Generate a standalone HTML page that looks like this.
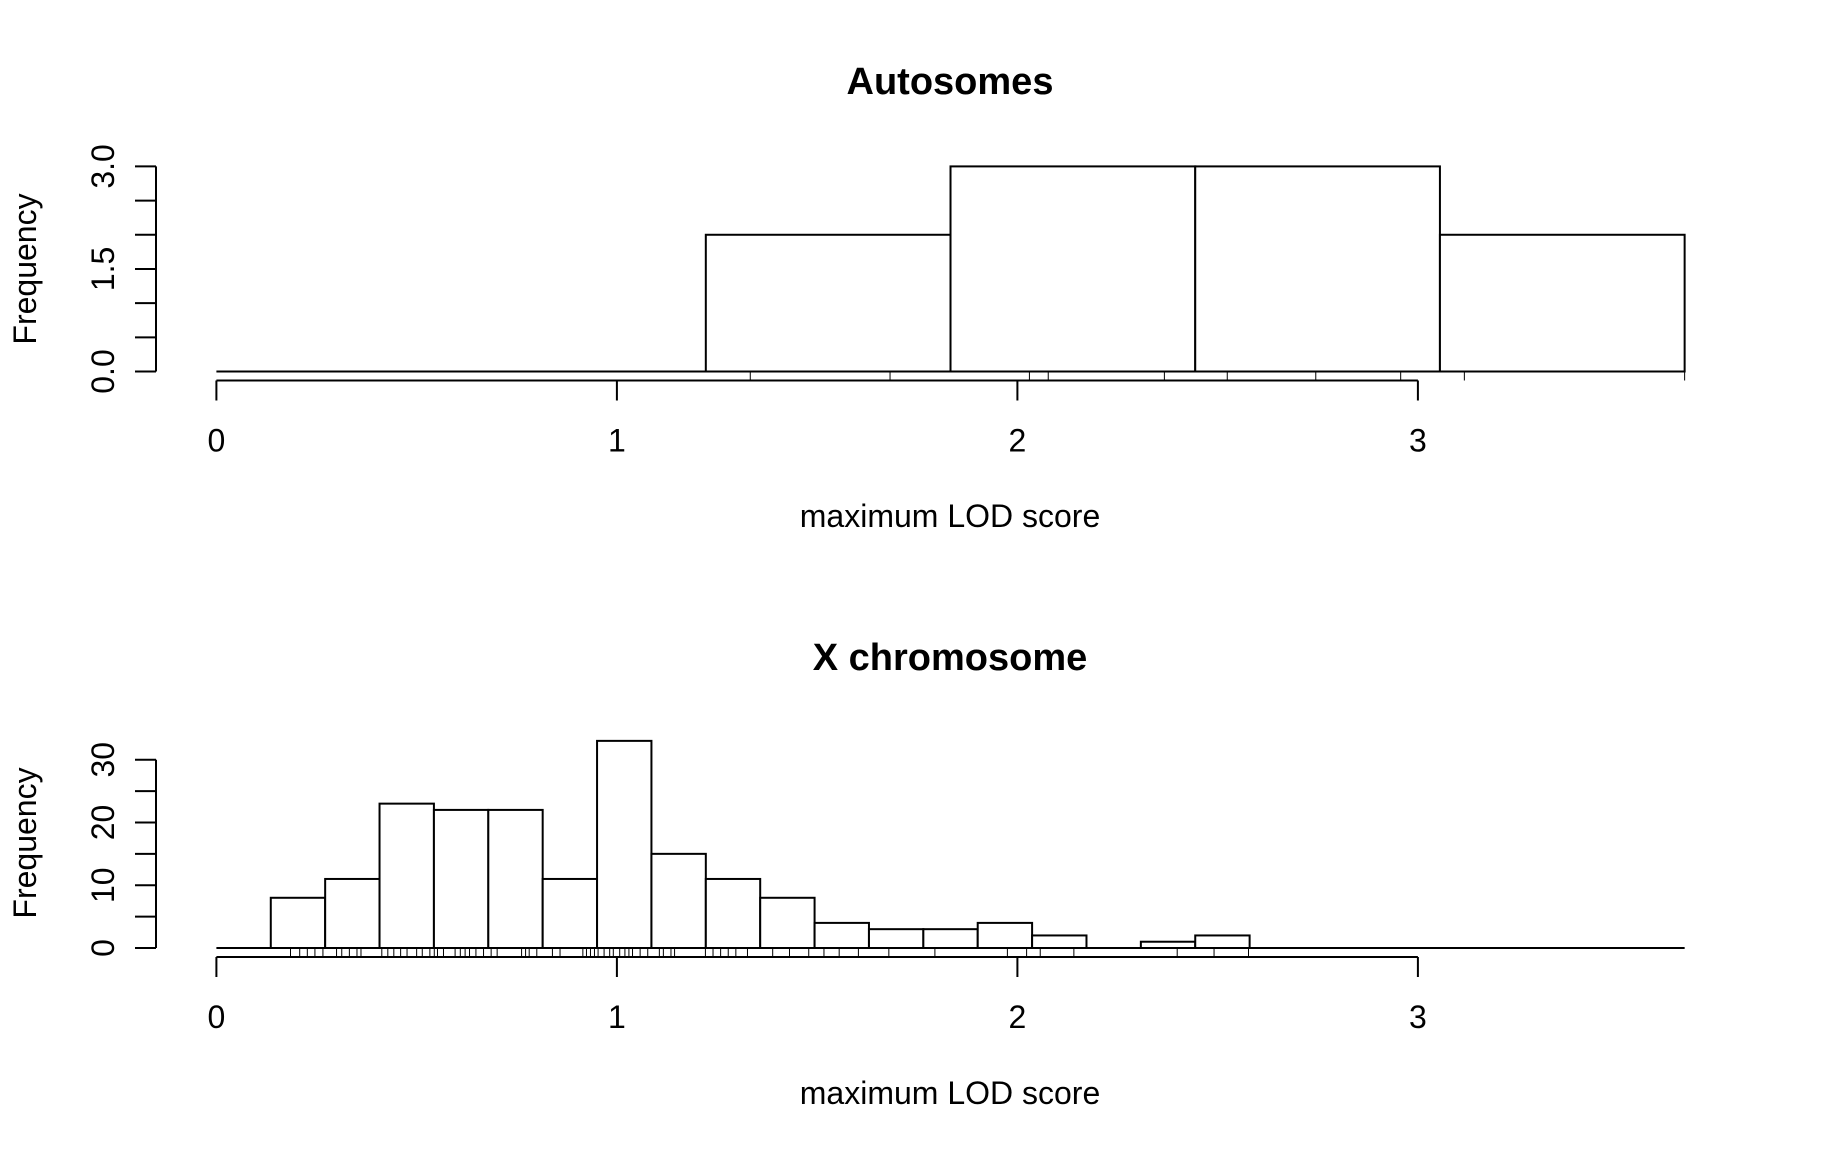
<!DOCTYPE html>
<html><head><meta charset="utf-8"><style>
html,body{margin:0;padding:0;background:#fff;}
svg{display:block;font-family:"Liberation Sans",Arial,sans-serif;}
</style></head><body>
<svg id="chart" width="1824" height="1152" viewBox="0 0 1824 1152" xmlns="http://www.w3.org/2000/svg">
<text x="950" y="94" text-anchor="middle" font-size="38" font-weight="bold">Autosomes</text>
<text x="950" y="527" text-anchor="middle" font-size="32">maximum LOD score</text>
<text transform="translate(36,269) rotate(-90)" text-anchor="middle" font-size="32">Frequency</text>
<text x="950" y="670" text-anchor="middle" font-size="38" font-weight="bold">X chromosome</text>
<text x="950" y="1104" text-anchor="middle" font-size="32">maximum LOD score</text>
<text transform="translate(36,843) rotate(-90)" text-anchor="middle" font-size="32">Frequency</text>
<g id="top"></g>
<g id="bottom"></g>
</svg>
<script>
const topBinWidth = 0.611;
const topCounts = [0, 0, 2, 3, 3, 2];
const topYTicks = [0, 0.5, 1, 1.5, 2, 2.5, 3];
const topYLabels = ["0.0", "", "", "1.5", "", "", "3.0"];
const topRug = [1.333, 1.682, 2.030, 2.077, 2.367, 2.524, 2.745, 2.957, 3.116, 3.666];

const botBinWidth = 0.13578;
const botCounts = [0, 8, 11, 23, 22, 22, 11, 33, 15, 11, 8, 4, 3, 3, 4, 2, 0, 1, 2, 0, 0, 0, 0, 0, 0, 0, 0];
const botYTicks = [0, 5, 10, 15, 20, 25, 30];
const botYLabels = ["0", "", "10", "", "20", "", "30"];
const botRug = [0.185,0.208,0.227,0.246,0.266,0.300,0.313,0.332,0.351,0.361,0.413,0.428,0.443,0.460,0.476,0.500,0.514,0.533,0.544,0.552,0.567,0.596,0.609,0.621,0.632,0.648,0.667,0.686,0.701,0.762,0.772,0.781,0.800,0.839,0.858,0.915,0.924,0.934,0.944,0.953,0.968,0.982,0.991,1.007,1.020,1.030,1.039,1.058,1.077,1.106,1.116,1.135,1.144,1.221,1.240,1.259,1.278,1.297,1.326,1.389,1.431,1.479,1.517,1.555,1.603,1.679,1.794,1.975,2.023,2.057,2.141,2.399,2.491,2.577];

const xTicks = [0, 1, 2, 3];
const NS = "http://www.w3.org/2000/svg";
function mk(parent, tag, attrs) {
  const e = document.createElementNS(NS, tag);
  for (const k in attrs) e.setAttribute(k, attrs[k]);
  parent.appendChild(e);
  return e;
}

function drawPanel(g, cfg) {
  const xs = v => 216.4 + v * 400.5;
  const ys = v => cfg.y0 + (cfg.yTop - cfg.y0) * v / cfg.yMax;
  // zero baseline across all bins
  const bl = mk(g, "line", {x1: xs(0), x2: xs(cfg.counts.length * cfg.bw), y1: cfg.y0, y2: cfg.y0, stroke: "#000", "stroke-width": 2});
  
  
  // bars
  cfg.counts.forEach((c, i) => {
    if (c <= 0) return;
    const x1 = xs(i * cfg.bw), x2 = xs((i + 1) * cfg.bw);
    const r = mk(g, "rect", {x: x1, y: ys(c), width: x2 - x1, height: cfg.y0 - ys(c), fill: "#fff", stroke: "#000", "stroke-width": 2});
    
    
  });
  // rug
  cfg.rug.forEach(v => {
    const l = mk(g, "line", {x1: xs(v), x2: xs(v), y1: cfg.y0, y2: cfg.y0 + 9, stroke: "#000", "stroke-width": 1});
    
    
  });
  // x axis
  const ax = mk(g, "line", {x1: xs(0), x2: xs(3), y1: cfg.y0 + 9, y2: cfg.y0 + 9, stroke: "#000", "stroke-width": 2});
  
  
  xTicks.forEach(t => {
    const tk = mk(g, "line", {x1: xs(t), x2: xs(t), y1: cfg.y0 + 9, y2: cfg.y0 + 29, stroke: "#000", "stroke-width": 2});
    
    
    const tx = mk(g, "text", {x: xs(t), y: cfg.y0 + 80, "text-anchor": "middle", "font-size": 32});
    tx.textContent = t;
    
    
  });
  // y axis
  const ay = mk(g, "line", {x1: 156, x2: 156, y1: ys(0), y2: ys(cfg.yTicks[cfg.yTicks.length - 1]), stroke: "#000", "stroke-width": 2});
  
  
  cfg.yTicks.forEach((t, i) => {
    const tk = mk(g, "line", {x1: 135, x2: 156, y1: ys(t), y2: ys(t), stroke: "#000", "stroke-width": 2});
    
    
    if (cfg.yLabels[i]) {
      const tx = mk(g, "text", {transform: "translate(114," + ys(t) + ") rotate(-90)", "text-anchor": "middle", "font-size": 32});
      tx.textContent = cfg.yLabels[i];
      
      
    }
  });
}

drawPanel(document.getElementById("top"), {y0: 371.5, yTop: 166.4, yMax: 3, bw: topBinWidth, counts: topCounts, rug: topRug, yTicks: topYTicks, yLabels: topYLabels});
drawPanel(document.getElementById("bottom"), {y0: 948, yTop: 759.7, yMax: 30, bw: botBinWidth, counts: botCounts, rug: botRug, yTicks: botYTicks, yLabels: botYLabels});
</script>
</body></html>
